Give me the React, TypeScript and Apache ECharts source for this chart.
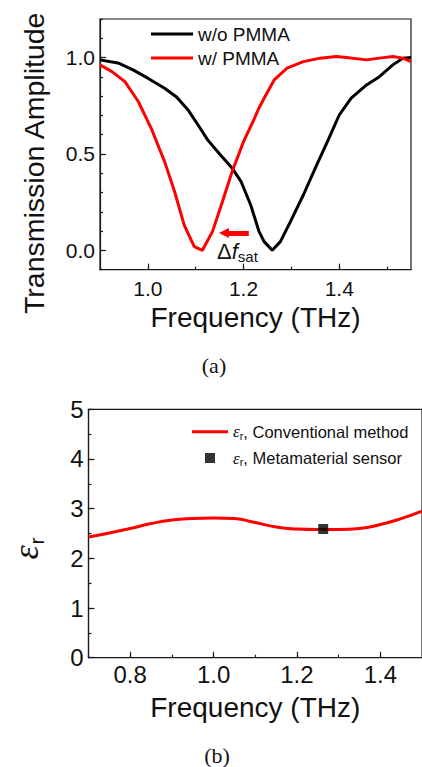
import React, { useEffect, useRef } from "react";
import * as echarts from "echarts";

// ---- Data (a): transmission amplitude ----
const freqNoPmma = [0.9, 0.94, 0.97, 1.0, 1.035, 1.06, 1.085, 1.105, 1.125, 1.15, 1.175, 1.195, 1.215, 1.232, 1.243, 1.26, 1.277, 1.298, 1.325, 1.353, 1.377, 1.4, 1.425, 1.457, 1.484, 1.512, 1.533, 1.55];
const ampNoPmma = [0.988, 0.97, 0.935, 0.893, 0.841, 0.795, 0.725, 0.65, 0.573, 0.5, 0.43, 0.356, 0.235, 0.1, 0.045, 0.0, 0.045, 0.149, 0.287, 0.443, 0.573, 0.702, 0.789, 0.858, 0.901, 0.962, 0.997, 1.0];
const freqPmma = [0.9, 0.925, 0.952, 0.98, 1.007, 1.035, 1.056, 1.076, 1.097, 1.114, 1.135, 1.156, 1.176, 1.2, 1.222, 1.232, 1.243, 1.264, 1.291, 1.325, 1.36, 1.394, 1.415, 1.457, 1.484, 1.512, 1.533, 1.55];
const ampPmma = [0.962, 0.927, 0.875, 0.772, 0.633, 0.46, 0.304, 0.131, 0.019, 0.0, 0.097, 0.253, 0.408, 0.564, 0.68, 0.737, 0.789, 0.884, 0.945, 0.979, 0.997, 1.005, 1.0, 0.988, 0.997, 1.005, 0.997, 0.979];
const shiftArrowFrom = [1.211, 0.09];
const shiftArrowTo = [1.159, 0.09];

// ---- Data (b): permittivity ----
const freqConv = [0.7, 0.75, 0.8, 0.85, 0.9, 0.95, 1.0, 1.05, 1.1, 1.15, 1.2, 1.25, 1.3, 1.35, 1.4, 1.45, 1.5];
const epsConv = [2.43, 2.51, 2.6, 2.7, 2.77, 2.8, 2.81, 2.8, 2.72, 2.63, 2.59, 2.58, 2.58, 2.6, 2.68, 2.8, 2.95];
const freqMeta = [1.263];
const epsMeta = [2.59];

const zip = (a: number[], b: number[]) => a.map((v, i) => [v, b[i]]);

const FONT = "'Liberation Sans', Arial, sans-serif";
const SERIF = "'Liberation Serif', 'Times New Roman', serif";
const AX = "#1a1a1a";

const labelEvery = (step: number, digits: number) => (v: number) => {
  const k = v / step;
  return Math.abs(k - Math.round(k)) < 1e-6 ? v.toFixed(digits) : "";
};

export default function App() {
  const ref = useRef<HTMLDivElement>(null);
  useEffect(() => {
    if (!ref.current) return;
    const chart = echarts.init(ref.current, null, { renderer: "svg" });
    const lineStyle = { color: AX, width: 1.2 };
    const hiddenAxis = {
      axisLine: { show: false, onZero: false },
      axisLabel: { show: false },
      splitLine: { show: false },
    };
    const option: any = {
      animation: false,
      backgroundColor: "#fff",
      textStyle: { fontFamily: FONT },
      grid: [
        { left: 100, right: 11, top: 19, height: 250.6, show: true, borderColor: AX, borderWidth: 1.2, backgroundColor: "transparent" },
        { left: 85, right: -3.3, top: 409.3, height: 248.4, show: true, borderColor: AX, borderWidth: 1.2, backgroundColor: "transparent" },
      ],
      xAxis: [
        {
          gridIndex: 0, type: "value", min: 0.9, max: 1.55, interval: 0.1,
          axisLine: { lineStyle, onZero: false },
          axisTick: { inside: true, length: 3, lineStyle },
          axisLabel: { formatter: labelEvery(0.2, 1), fontSize: 21, color: "#111", margin: 8, fontFamily: FONT, showMaxLabel: false },
          splitLine: { show: false },
          name: "Frequency (THz)", nameLocation: "middle", nameGap: 34,
          nameTextStyle: { fontSize: 28, color: "#111", fontFamily: FONT },
        },
        {
          gridIndex: 0, type: "value", min: 0.9, max: 1.55, position: "bottom", ...hiddenAxis,
          axisTick: { inside: true, length: 6, lineStyle, customValues: [1.0, 1.2, 1.4] },
        },
        {
          gridIndex: 1, type: "value", min: 0.7, max: 1.5, interval: 0.1,
          axisLine: { lineStyle, onZero: false },
          axisTick: { inside: true, length: 3, lineStyle },
          axisLabel: { formatter: labelEvery(0.2, 1), fontSize: 24, color: "#111", margin: 5, fontFamily: FONT, showMaxLabel: false },
          splitLine: { show: false },
          name: "Frequency (THz)", nameLocation: "middle", nameGap: 36,
          nameTextStyle: { fontSize: 28, color: "#111", fontFamily: FONT },
        },
        {
          gridIndex: 1, type: "value", min: 0.7, max: 1.5, position: "bottom", ...hiddenAxis,
          axisTick: { inside: true, length: 6, lineStyle, customValues: [0.8, 1.0, 1.2, 1.4] },
        },
      ],
      yAxis: [
        {
          gridIndex: 0, type: "value", min: -0.1, max: 1.2, interval: 0.1,
          axisLine: { lineStyle, onZero: false },
          axisTick: { inside: true, length: 3, lineStyle },
          axisLabel: { formatter: labelEvery(0.5, 1), fontSize: 21, color: "#111", margin: 5, fontFamily: FONT },
          splitLine: { show: false },
          name: "Transmission Amplitude", nameLocation: "middle", nameGap: 52,
          nameTextStyle: { fontSize: 28.5, color: "#111", fontFamily: FONT, padding: [0, 38, 0, 0] },
        },
        {
          gridIndex: 0, type: "value", min: -0.1, max: 1.2, position: "left", ...hiddenAxis,
          axisTick: { inside: true, length: 6, lineStyle, customValues: [0, 0.5, 1.0] },
        },
        {
          gridIndex: 1, type: "value", min: 0, max: 5, interval: 0.5,
          axisLine: { lineStyle, onZero: false },
          axisTick: { inside: true, length: 3, lineStyle },
          axisLabel: { formatter: labelEvery(1, 0), fontSize: 24, color: "#111", margin: 5, fontFamily: FONT },
          splitLine: { show: false },
          name: "{e|ε}{r|r}", nameLocation: "middle", nameGap: 42,
          nameTextStyle: {
            color: "#111", padding: [0, 30, 0, 0],
            rich: {
              e: { fontSize: 36, fontStyle: "italic", fontFamily: SERIF, color: "#111" },
              r: { fontSize: 21, fontFamily: FONT, color: "#111", padding: [20, 0, 0, 1] },
            },
          },
        },
        {
          gridIndex: 1, type: "value", min: 0, max: 5, position: "left", ...hiddenAxis,
          axisTick: { inside: true, length: 6, lineStyle, customValues: [0, 1, 2, 3, 4, 5] },
        },
      ],
      legend: [
        {
          data: ["w/o PMMA", "w/ PMMA"], orient: "vertical", left: 151, top: 23, padding: 0,
          icon: "rect", itemWidth: 42, itemHeight: 3, itemGap: 2,
          textStyle: { fontSize: 19, lineHeight: 22, color: "#111", fontFamily: FONT },
        },
        {
          data: ["conv"], left: 192, top: 420.7, padding: 0,
          icon: "rect", itemWidth: 36, itemHeight: 3,
          formatter: () => "{e|ε}{s|r}{t|, Conventional method}",
          textStyle: {
            lineHeight: 22, color: "#111",
            rich: {
              e: { fontSize: 17, fontStyle: "italic", fontFamily: SERIF, color: "#111" },
              s: { fontSize: 11, fontFamily: FONT, color: "#111", padding: [8, 0, 0, 0] },
              t: { fontSize: 16.5, fontFamily: FONT, color: "#111" },
            },
          },
        },
        {
          data: ["meta"], left: 205, top: 447, padding: 0,
          icon: "rect", itemWidth: 10, itemHeight: 10,
          formatter: () => "{g|}{e|ε}{s|r}{t|, Metamaterial sensor}",
          textStyle: {
            lineHeight: 22, color: "#111",
            rich: {
              g: { width: 13, fontSize: 16 },
              e: { fontSize: 17, fontStyle: "italic", fontFamily: SERIF, color: "#111" },
              s: { fontSize: 11, fontFamily: FONT, color: "#111", padding: [8, 0, 0, 0] },
              t: { fontSize: 16.5, fontFamily: FONT, color: "#111" },
            },
          },
        },
      ],
      series: [
        {
          name: "w/o PMMA", type: "line", xAxisIndex: 0, yAxisIndex: 0,
          data: zip(freqNoPmma, ampNoPmma), showSymbol: false, symbol: "none",
          lineStyle: { color: "#000", width: 3 }, itemStyle: { color: "#000" },
        },
        {
          name: "w/ PMMA", type: "line", xAxisIndex: 0, yAxisIndex: 0,
          data: zip(freqPmma, ampPmma), showSymbol: false, symbol: "none",
          lineStyle: { color: "#ff0000", width: 3 }, itemStyle: { color: "#ff0000" },
          markLine: {
            silent: true, symbol: ["none", "triangle"], symbolSize: [10, 10],
            label: { show: false },
            lineStyle: { color: "#ff0000", width: 5, type: "solid" },
            data: [[{ coord: shiftArrowFrom }, { coord: shiftArrowTo }]],
          },
        },
        {
          name: "conv", type: "line", xAxisIndex: 2, yAxisIndex: 2,
          data: zip(freqConv, epsConv), smooth: true, showSymbol: false, symbol: "none",
          lineStyle: { color: "#ff0000", width: 3 }, itemStyle: { color: "#ff0000" },
        },
        {
          name: "meta", type: "scatter", xAxisIndex: 2, yAxisIndex: 2,
          data: zip(freqMeta, epsMeta), symbol: "rect", symbolSize: 10,
          itemStyle: { color: "#000" }, z: 5,
        },
      ],
      graphic: [
        {
          type: "text", left: 217, top: 240,
          style: {
            text: "{d|Δ}{f|f}{s|sat}",
            rich: {
              d: { fontSize: 22, fontFamily: FONT, fill: "#111" },
              f: { fontSize: 22, fontStyle: "italic", fontFamily: FONT, fill: "#111" },
              s: { fontSize: 15, fontFamily: FONT, fill: "#111", padding: [10, 0, 0, 0] },
            },
          },
        },
        {
          type: "text", x: 214, y: 365,
          style: { text: "(a)", fontSize: 22, fontFamily: SERIF, fill: "#111", align: "center", verticalAlign: "middle" },
        },
        {
          type: "text", x: 217, y: 755,
          style: { text: "(b)", fontSize: 22, fontFamily: SERIF, fill: "#111", align: "center", verticalAlign: "middle" },
        },
      ],
    };
    chart.setOption(option);
    return () => chart.dispose();
  }, []);
  return <div ref={ref} style={{ position: "absolute", left: 0, top: 0, width: 422, height: 767 }} />;
}
